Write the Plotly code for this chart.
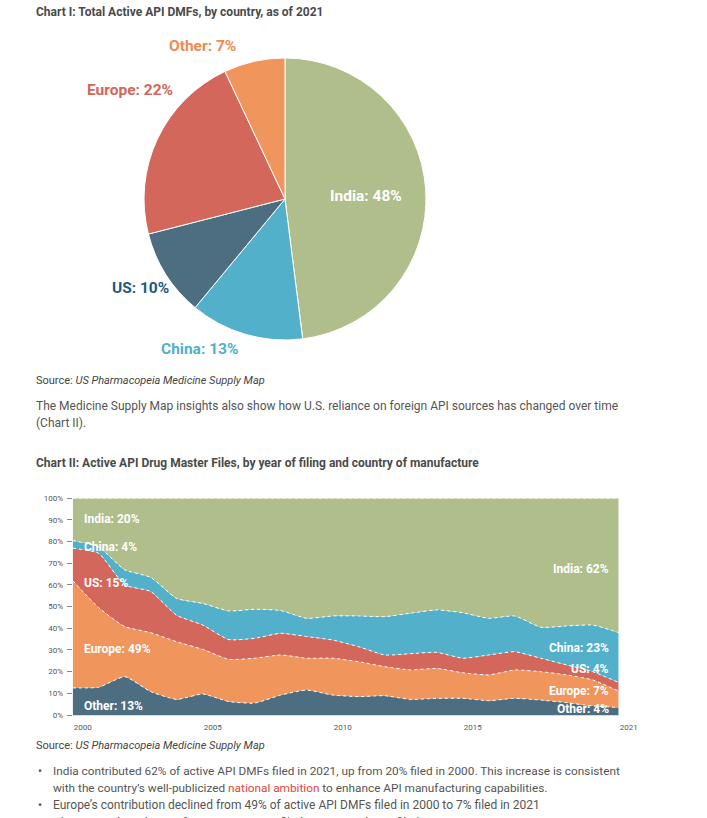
import plotly.graph_objects as go

W, H = 707, 818

# ---------- Chart I data ----------
pie_labels = ["India", "China", "US", "Europe", "Other"]
pie_values = [48, 13, 10, 22, 7]
pie_colors = ["#b0be8b", "#52b0cb", "#4d6e81", "#d4675c", "#f0955b"]

# ---------- Chart II data ----------
years = list(range(2000, 2022))
other = [12.5, 12.8, 17.7, 10.8, 7.2, 9.7, 6.2, 5.5, 9.2, 11.5, 9.2, 8.5, 8.9, 7.2, 7.7, 7.7, 6.6, 7.7, 6.9, 5.7, 4.2, 3.5]
europe = [49.5, 36.7, 23.1, 27.2, 26.6, 20.6, 19.5, 20.7, 18.5, 14.7, 17.0, 16.1, 13.4, 13.6, 13.8, 11.8, 11.9, 13.1, 13.1, 12.8, 12.0, 7.5]
us = [15.0, 25.1, 19.2, 19.0, 12.2, 11.2, 9.1, 9.2, 10.0, 10.0, 8.4, 6.9, 5.4, 7.5, 7.4, 6.7, 9.2, 8.4, 6.2, 4.6, 3.8, 4.0]
china = [3.5, 2.9, 7.0, 6.5, 7.8, 10.0, 13.2, 13.4, 10.5, 8.4, 11.1, 14.2, 17.7, 18.7, 19.6, 21.0, 16.9, 16.5, 14.3, 18.0, 21.5, 23.0]
india = [19.5, 22.5, 33.0, 36.5, 46.2, 48.5, 52.0, 51.2, 51.8, 55.4, 54.3, 54.3, 54.6, 53.0, 51.5, 52.8, 55.4, 54.3, 59.5, 58.9, 58.5, 62.0]
area_series = [("Other", other, "#4d6e81"), ("Europe", europe, "#f0955b"),
               ("US", us, "#d4675c"), ("China", china, "#52b0cb"), ("India", india, "#b0be8b")]
x_tickvals = [2000, 2005, 2010, 2015, 2021]
x_ticktext = ["2000", "2005", "2010", "2015", "2021"]
y_tickvals = [0, 10, 20, 30, 40, 50, 60, 70, 80, 90, 100]
y_ticktext = ["0%", "10%", "20%", "30%", "40%", "50%", "60%", "70%", "80%", "90%", "100%"]

FONT = "Roboto"

def px(x):
    return x / W

def py(y):
    return 1 - y / H

fig = go.Figure()

fig.add_trace(go.Pie(
    labels=pie_labels, values=pie_values, sort=False, direction="clockwise", rotation=0,
    marker=dict(colors=pie_colors, line=dict(color="white", width=1)),
    textinfo="none",
    domain=dict(x=[px(144), px(426)], y=[py(340), py(58)]),
    showlegend=False, hoverinfo="label+percent",
))

for name, vals, col in area_series:
    fig.add_trace(go.Scatter(
        x=years, y=vals, name=name, stackgroup="one", mode="lines",
        line=dict(color="white", width=1, dash="dot", shape="spline", smoothing=0.5),
        fillcolor=col, showlegend=False, xaxis="x", yaxis="y",
    ))

annotations = []

def txt(x, y, s, size, color, xanchor="left", weight=None, family=FONT):
    f = dict(family=family, size=size, color=color)
    if weight:
        f["weight"] = weight
    annotations.append(dict(x=px(x), y=py(y), xref="paper", yref="paper", text=s,
                            showarrow=False, xanchor=xanchor, yanchor="middle", font=f))

# Titles and body text
txt(34, 12, "<b>Chart I: Total Active API DMFs, by country, as of 2021</b>", 12, "#4a4a4a")
txt(34, 381, "Source: <i>US Pharmacopeia Medicine Supply Map</i>", 11, "#444")
txt(34, 406, "The Medicine Supply Map insights also show how U.S. reliance on foreign API sources has changed over time", 12, "#555")
txt(34, 423, "(Chart II).", 12, "#555")
txt(34, 463, "<b>Chart II: Active API Drug Master Files, by year of filing and country of manufacture</b>", 12, "#4a4a4a")
txt(34, 745, "Source: <i>US Pharmacopeia Medicine Supply Map</i>", 11, "#444")
txt(36, 771, "•", 12, "#555")
txt(51, 771, "India contributed 62% of active API DMFs filed in 2021, up from 20% filed in 2000. This increase is consistent", 11.8, "#555")
txt(51, 788, "with the country’s well-publicized <span style='color:#e0463c'>national ambition</span> to enhance API manufacturing capabilities.", 11.8, "#555")
txt(36, 805, "•", 12, "#555")
txt(51, 805, "Europe’s contribution declined from 49% of active API DMFs filed in 2000 to 7% filed in 2021", 12, "#555")
txt(51, 823, "China contributed 13% of active API DMFs filed in 2012 and 23% filed in 2021", 12, "#555")

# Pie labels
txt(203, 46, "<b>Other: 7%</b>", 15.5, "#ef8c4f", xanchor="center")
txt(130, 90, "<b>Europe: 22%</b>", 15.5, "#d4665a", xanchor="center")
txt(140, 288, "<b>US: 10%</b>", 15.5, "#1d5a80", xanchor="center")
txt(199, 349, "<b>China: 13%</b>", 15.5, "#4fb0cb", xanchor="center")
txt(366, 196, "<b>India: 48%</b>", 15.5, "white", xanchor="center")

# Area labels
for y, s in [(519, "India: 20%"), (547, "China: 4%"), (583, "US: 15%"), (649, "Europe: 49%"), (706, "Other: 13%")]:
    txt(82, y, "<b>" + s + "</b>", 12, "white")
for y, s in [(569, "India: 62%"), (648, "China: 23%"), (669, "US: 4%"), (691, "Europe: 7%"), (709, "Other: 4%")]:
    txt(611, y, "<b>" + s + "</b>", 12, "white", xanchor="right")

fig.update_layout(
    width=W, height=H, margin=dict(l=0, r=0, t=0, b=0, autoexpand=False),
    paper_bgcolor="white", plot_bgcolor="white",
    annotations=annotations,
    xaxis=dict(domain=[px(72.7), px(618.7)], range=[2000, 2021], tickvals=x_tickvals, ticktext=x_ticktext,
               showgrid=False, zeroline=False, showline=True, linecolor="#d5dde2", linewidth=1,
               ticks="", tickfont=dict(family=FONT, size=8, color="#555"), ticklabelshift=10,
               ticklabelstandoff=4, automargin=False, fixedrange=True),
    yaxis=dict(domain=[py(715), py(498.3)], range=[0, 100], tickvals=y_tickvals, ticktext=y_ticktext,
               showgrid=False, zeroline=False, showline=False, ticks="outside", ticklen=5,
               tickcolor="#888", tickwidth=1, tickfont=dict(family=FONT, size=8, color="#555"),
               ticklabelstandoff=2, automargin=False, fixedrange=True),
)

fig.write_html("out.html")
